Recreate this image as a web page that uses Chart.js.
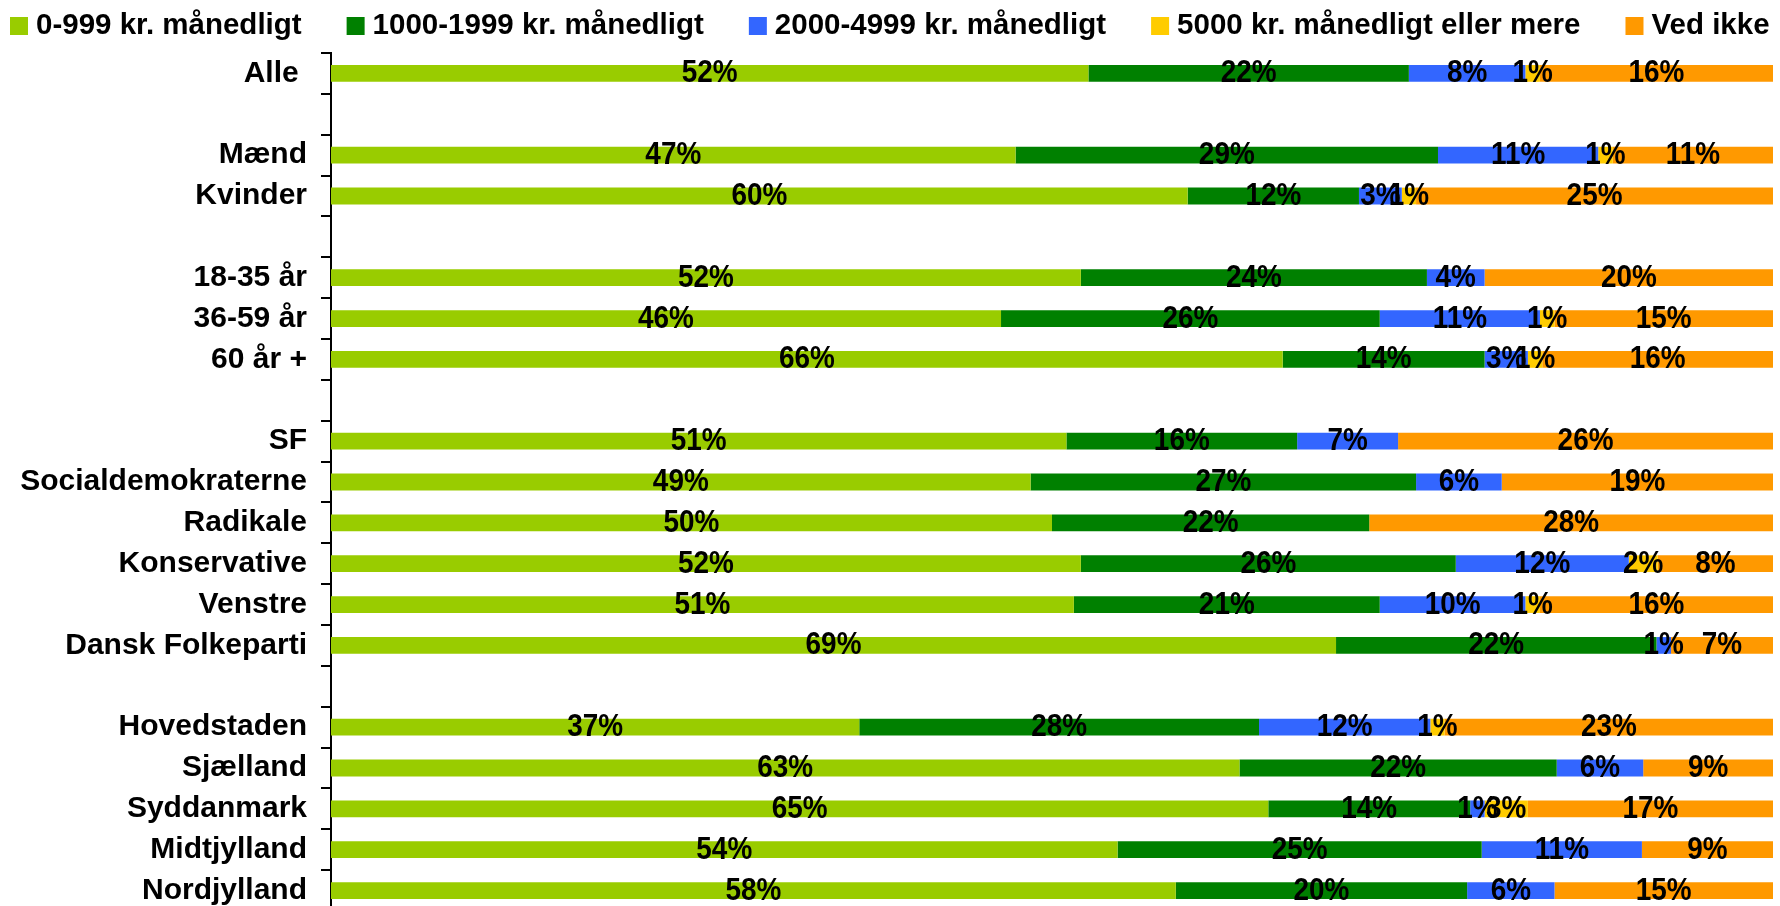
<!DOCTYPE html>
<html>
<head>
<meta charset="utf-8">
<script src="https://cdn.jsdelivr.net/npm/chart.js@4/dist/chart.umd.min.js"></script>
<style>
  html,body{margin:0;padding:0;background:#fff;overflow:hidden;}
  #chart{position:absolute;left:0;top:0;}
</style>
</head>
<body>
<canvas id="chart" width="1780" height="912"></canvas>
<script>
// rows, empty strings are the spacer rows between groups
const categories=['Alle ','','Mænd','Kvinder','','18-35 år','36-59 år','60 år +','','SF','Socialdemokraterne','Radikale','Konservative','Venstre','Dansk Folkeparti','','Hovedstaden','Sjælland','Syddanmark','Midtjylland','Nordjylland'];

const seriesNames=['0-999 kr. månedligt','1000-1999 kr. månedligt','2000-4999 kr. månedligt','5000 kr. månedligt eller mere','Ved ikke'];
const seriesColors=['#99CC00','#008000','#3366FF','#FFCC00','#FF9900'];

const low=     [52,null,47,60,null,52,46,66,null,51,49,50,52,51,69,null,37,63,65,54,58];
const mid=     [22,null,29,12,null,24,26,14,null,16,27,22,26,21,22,null,28,22,14,25,20];
const high=    [8, null,11,3, null,4, 11,3, null,7, 6, 0, 12,10,1, null,12,6, 1, 11,6];
const top5000= [1, null,1, 1, null,0, 1, 1, null,0, 0, 0, 2, 1, 0, null,1, 0, 3, 0, 0];
const dontKnow=[16,null,11,25,null,20,15,16,null,26,19,28,8, 16,7, null,23,9, 17,9, 15];

const seriesValues=[low,mid,high,top5000,dontKnow];

// 100% stacked: each row is scaled to its own total
const rowTotals=categories.map((c,i)=>seriesValues.reduce((s,arr)=>s+(arr[i]||0),0));

const FONT='"Liberation Sans", Arial, sans-serif';

const valueLabels={
  id:'valueLabels',
  afterDatasetsDraw(chart){
    const ctx=chart.ctx;
    ctx.save();
    ctx.font='bold 31px '+FONT;
    ctx.fillStyle='#000';
    ctx.textAlign='center';
    ctx.textBaseline='alphabetic';
    chart.data.datasets.forEach((ds,di)=>{
      const meta=chart.getDatasetMeta(di);
      meta.data.forEach((bar,i)=>{
        const v=ds.raw[i];
        if(!v)return;
        const x=(bar.x+bar.base)/2;
        ctx.save();
        ctx.translate(x,bar.y+9);
        ctx.scale(0.9,1);
        ctx.fillText(v+'%',0,0);
        ctx.restore();
      });
    });
    ctx.restore();
  }
};

// legend row, wider than the canvas like the original so it runs off the right edge
const topLegend={
  id:'topLegend',
  afterDraw(chart){
    const ctx=chart.ctx;
    ctx.save();
    ctx.font='bold 29.5px '+FONT;
    ctx.textBaseline='middle';
    ctx.textAlign='left';
    let x=10;
    seriesNames.forEach((name,i)=>{
      ctx.fillStyle=seriesColors[i];
      ctx.fillRect(x,17,18,18);
      ctx.fillStyle='#000';
      ctx.fillText(name,x+26,26);
      x+=26+ctx.measureText(name).width+45;
    });
    ctx.restore();
  }
};

new Chart(document.getElementById('chart'),{
  type:'bar',
  data:{
    labels:categories,
    datasets:seriesValues.map((vals,si)=>({
      label:seriesNames[si],
      raw:vals,
      data:vals.map((v,i)=>v==null?null:v/rowTotals[i]*100),
      backgroundColor:seriesColors[si],
      borderWidth:0,
      categoryPercentage:1,
      barPercentage:0.41
    }))
  },
  options:{
    indexAxis:'y',
    responsive:false,
    maintainAspectRatio:false,
    animation:false,
    devicePixelRatio:1,
    layout:{autoPadding:false,padding:{top:53,right:7,bottom:1,left:0}},
    plugins:{legend:{display:false},tooltip:{enabled:false}},
    scales:{
      x:{stacked:true,min:0,max:100,display:false},
      y:{
        stacked:true,
        afterFit:s=>{s.width=331;s.paddingTop=0;s.paddingBottom=0;},
        border:{display:true,color:'#000',width:2},
        grid:{offset:true,drawOnChartArea:false,drawTicks:true,tickLength:10,color:'#000',lineWidth:2},
        ticks:{color:'#000',padding:14,font:{family:FONT,size:30,weight:'bold'}}
      }
    }
  },
  plugins:[valueLabels,topLegend]
});
</script>
</body>
</html>
